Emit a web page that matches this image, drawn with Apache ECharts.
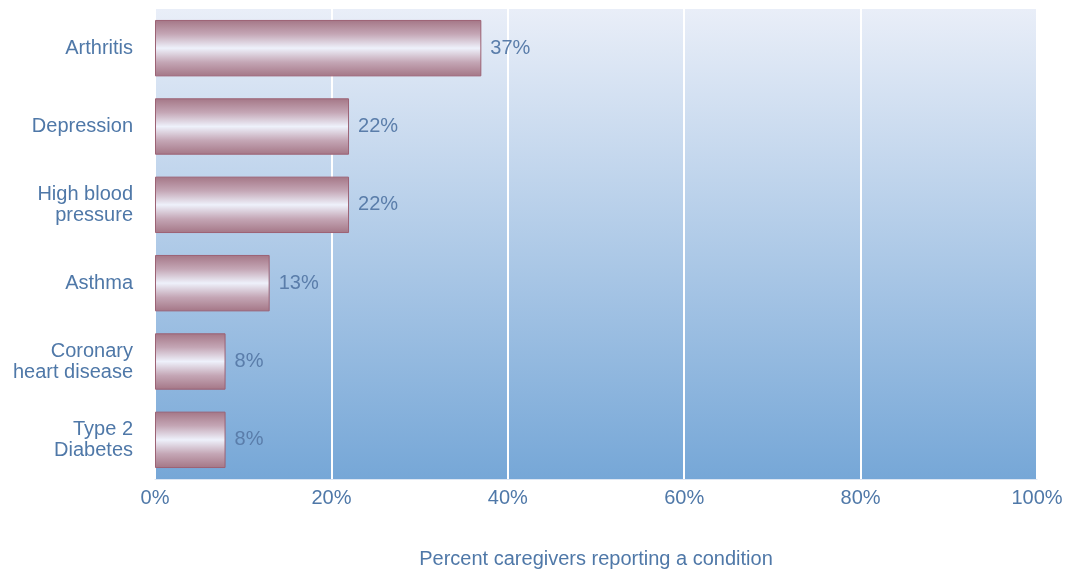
<!DOCTYPE html>
<html>
<head>
<meta charset="utf-8">
<script src="https://cdn.jsdelivr.net/npm/echarts@6/dist/echarts.min.js"></script>
<style>
  html, body { margin: 0; padding: 0; background: #ffffff; }
  #chart { width: 1068px; height: 569px; }
</style>
</head>
<body>
<div id="chart"></div>
<script>
// Health conditions reported by caregivers (percent)
const conditions = ['Arthritis', 'Depression', 'High blood\npressure', 'Asthma', 'Coronary\nheart disease', 'Type 2\nDiabetes'];
const percents = [37, 22, 22, 13, 8, 8];
const xTicks = [0, 20, 40, 60, 80, 100];

const textColor = '#4f78a8';
const chart = echarts.init(document.getElementById('chart'));

chart.setOption({
  animation: false,
  textStyle: { fontFamily: 'Liberation Sans, Arial, sans-serif' },
  grid: {
    left: 155, right: 31, top: 9, bottom: 90,
    containLabel: false,
    outerBoundsMode: 'none',
    show: true,
    borderWidth: 0,
    backgroundColor: new echarts.graphic.LinearGradient(0, 0, 0, 1, [
      { offset: 0, color: '#e9eef8' },
      { offset: 1, color: '#76a7d7' }
    ])
  },
  xAxis: {
    type: 'value',
    min: 0, max: 100, interval: 20,
    name: 'Percent caregivers reporting a condition',
    nameLocation: 'middle',
    nameGap: 70,
    nameTextStyle: { color: textColor, fontSize: 20 },
    axisLine: { show: true, lineStyle: { color: '#dce6f3', width: 1 } },
    axisTick: { show: false },
    axisLabel: {
      color: textColor, fontSize: 20, margin: 9,
      formatter: v => xTicks.includes(v) ? v + '%' : ''
    },
    splitLine: { show: true, lineStyle: { color: '#ffffff', width: 2 } }
  },
  yAxis: {
    type: 'category',
    data: conditions,
    inverse: true,
    axisLine: { show: false },
    axisTick: { show: false },
    axisLabel: { color: textColor, fontSize: 20, margin: 22, lineHeight: 21, align: 'right' }
  },
  series: [{
    type: 'bar',
    data: percents,
    barWidth: '72%',
    itemStyle: {
      color: new echarts.graphic.LinearGradient(0, 0, 0, 1, [
        { offset: 0, color: '#a47686' },
        { offset: 0.25, color: '#c4a6b5' },
        { offset: 0.5, color: '#eef1fb' },
        { offset: 0.75, color: '#c4a6b5' },
        { offset: 1, color: '#a47686' }
      ]),
      borderColor: '#9c6274',
      borderWidth: 1
    },
    label: {
      show: true,
      position: 'right',
      distance: 9,
      formatter: '{c}%',
      color: '#5a7daa',
      fontSize: 20
    }
  }]
});
</script>
</body>
</html>
